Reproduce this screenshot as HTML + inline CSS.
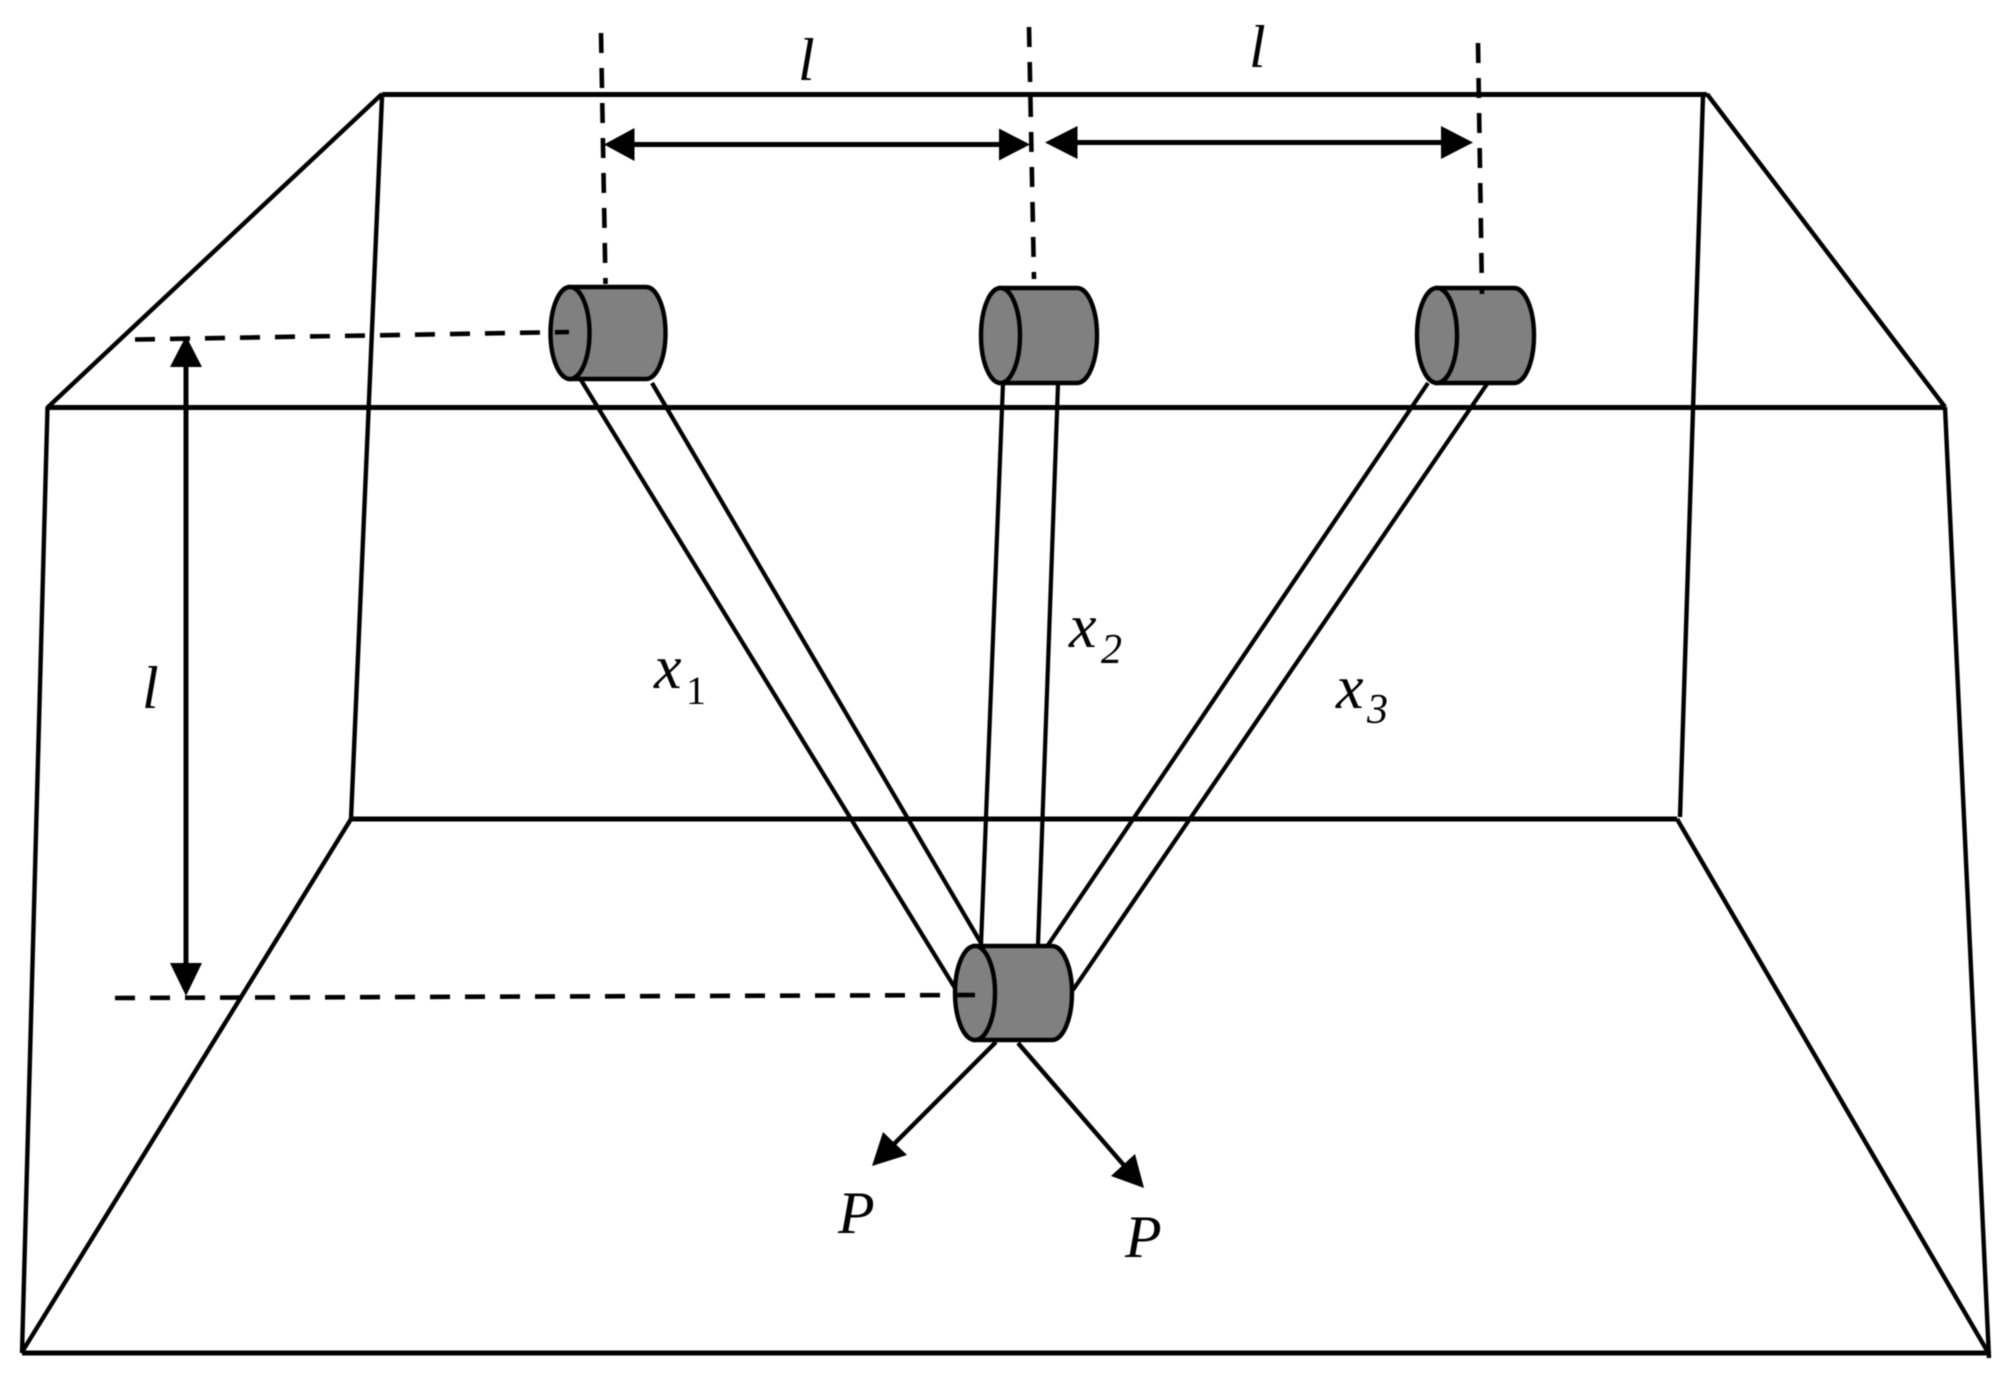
<!DOCTYPE html>
<html>
<head>
<meta charset="utf-8">
<style>
html,body{margin:0;padding:0;background:#fff;width:2011px;height:1386px;overflow:hidden}
svg{display:block;filter:blur(.5px)}
text{font-family:"Liberation Serif",serif;fill:#000;font-style:italic}
</style>
</head>
<body>
<svg width="2011" height="1386" viewBox="0 0 2011 1386" xmlns="http://www.w3.org/2000/svg">
<rect width="2011" height="1386" fill="#fff"/>
<!-- frame -->
<g stroke="#000" stroke-width="4.4" fill="none" stroke-linecap="butt">
<line x1="382" y1="94" x2="47" y2="408"/>
<line x1="1707" y1="94" x2="1945" y2="407"/>
<line x1="382" y1="97" x2="351" y2="819"/>
<line x1="1703" y1="96" x2="1680" y2="817"/>
<line x1="47.500" y1="407" x2="22" y2="1353"/>
<line x1="1945" y1="407" x2="1989" y2="1358"/>
<line x1="351" y1="819" x2="22" y2="1352"/>
<line x1="1677" y1="819" x2="1989" y2="1354"/>
</g>
<g stroke="#000" stroke-width="5" fill="none">
<line x1="382" y1="94.500" x2="1707" y2="94.500"/>
<line x1="47" y1="407.500" x2="1945" y2="407.500"/>
<line x1="351" y1="819" x2="1677" y2="819"/>
<line x1="22" y1="1353" x2="1989" y2="1353"/>
</g>
<!-- struts -->
<g stroke="#000" stroke-width="4.2" fill="none">
<line x1="581" y1="380" x2="955" y2="988"/>
<line x1="652" y1="383" x2="981" y2="943"/>
<line x1="1003" y1="383" x2="981" y2="945"/>
<line x1="1058" y1="384" x2="1038" y2="945"/>
<line x1="1428" y1="383" x2="1048" y2="945"/>
<line x1="1487" y1="384" x2="1073" y2="990"/>
</g>
<!-- cylinders -->
<g fill="#808080" stroke="#000" stroke-width="4.4">
<path d="M570 287H646A19.500 46 0 0 1 646 379H570Z"/>
<ellipse cx="570" cy="333" rx="19.500" ry="46"/>
<path d="M1000.500 288H1077A20 47.500 0 0 1 1077 383H1000.500Z"/>
<ellipse cx="1000.500" cy="335.500" rx="19.500" ry="47.500"/>
<path d="M1437 288H1514A20 47.500 0 0 1 1514 383H1437Z"/>
<ellipse cx="1437" cy="335.500" rx="20" ry="47.500"/>
<path d="M975 946H1052A20 47 0 0 1 1052 1040H975Z"/>
<ellipse cx="975" cy="993" rx="20" ry="47"/>
</g>
<!-- dashed -->
<g stroke="#000" fill="none" stroke-width="4.6" stroke-dasharray="20 15">
<line x1="601" y1="33" x2="605.500" y2="284"/>
<line x1="1029" y1="27" x2="1034" y2="279"/>
<line x1="1478" y1="43" x2="1482" y2="294"/>
<line x1="135" y1="339.500" x2="569" y2="332"/>
<line x1="115" y1="998" x2="976" y2="995"/>
</g>
<!-- dimension arrows -->
<g stroke="#000" stroke-width="5" fill="none">
<line x1="630" y1="144.500" x2="1005" y2="144.500"/>
<line x1="1070" y1="142.500" x2="1450" y2="142.500"/>
<line x1="186" y1="360" x2="186" y2="970"/>
</g>
<g fill="#000" stroke="none">
<polygon points="604,144.500 634.500,128 634.500,161"/>
<polygon points="1030,144.500 999,128.500 999,160.500"/>
<polygon points="1045,142.500 1077.500,126 1077.500,159"/>
<polygon points="1473,142.500 1441,126 1441,159"/>
<polygon points="186,336 170,367 202,367"/>
<polygon points="186,996 170,963 202,963"/>
</g>
<!-- P arrows -->
<g stroke="#000" stroke-width="4.4" fill="none">
<line x1="996" y1="1042" x2="890" y2="1148"/>
<line x1="1018" y1="1043" x2="1128" y2="1170"/>
</g>
<g fill="#000" stroke="none">
<polygon points="872,1166 883,1132 907,1155"/>
<polygon points="1144,1188 1135,1154 1111,1176"/>
</g>
<!-- labels -->
<text x="798" y="80" font-size="60">l</text>
<text x="1249" y="67" font-size="60">l</text>
<text x="142" y="708" font-size="60">l</text>
<text x="654" y="688" font-size="62">x</text>
<text x="686" y="704" font-size="40" style="font-style:normal">1</text>
<text x="1069" y="647" font-size="62">x</text>
<text x="1101" y="663" font-size="42">2</text>
<text x="1336" y="708" font-size="62">x</text>
<text x="1367" y="723" font-size="42">3</text>
<text x="838" y="1233" font-size="60">P</text>
<text x="1125" y="1257" font-size="60">P</text>
</svg>
</body>
</html>
